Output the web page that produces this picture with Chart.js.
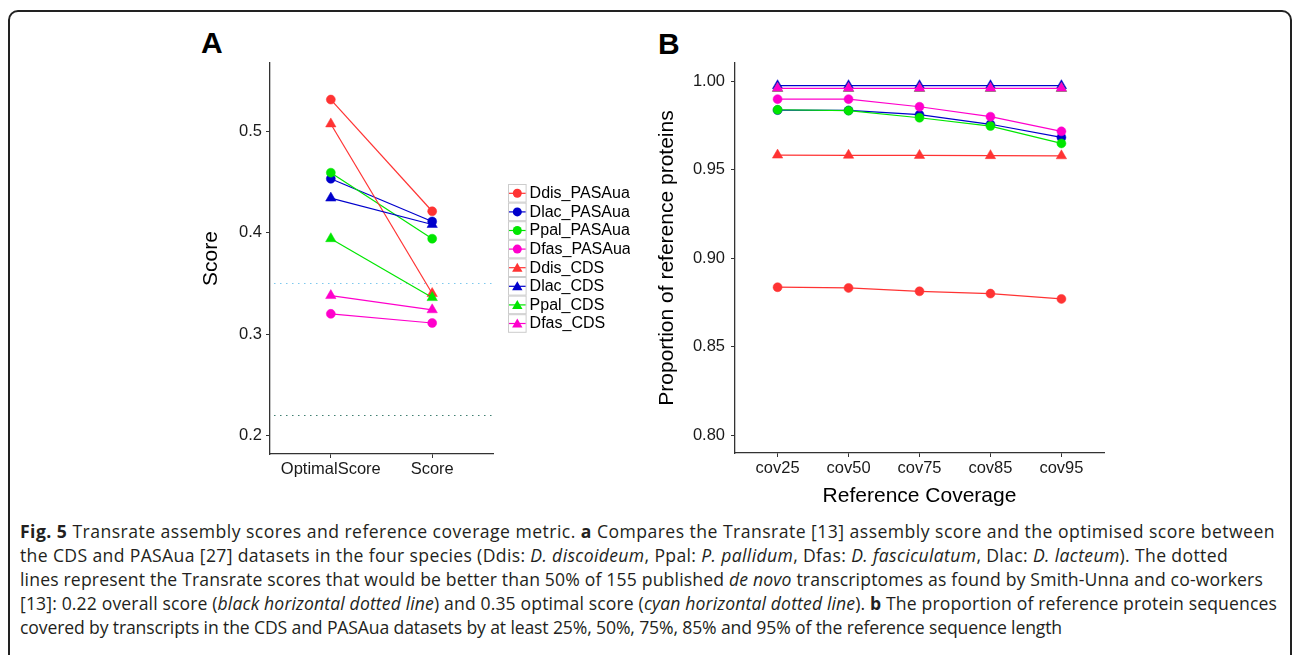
<!DOCTYPE html>
<html>
<head>
<meta charset="utf-8">
<script src="https://cdn.jsdelivr.net/npm/chart.js"></script>
<style>
  body { margin: 0; background: #fff; width: 1293px; height: 655px; overflow: hidden; position: relative; font-family: "Liberation Sans", Arial, sans-serif; }
  #frame { position: absolute; left: 8px; top: 10px; width: 1284px; height: 700px; border: 2px solid #222; border-radius: 10px; box-sizing: border-box; }
  canvas { position: absolute; }
  #scoreChart { left: 190px; top: 41px; }
  #covChart { left: 640px; top: 40px; }
  .panel { position: absolute; font-weight: bold; font-size: 30px; line-height: 30px; color: #000; }
  #caption { position: absolute; left: 20px; top: 519px; font-family: "Open Sans", sans-serif; font-size: 17.6px; line-height: 24px; color: #231f20; white-space: nowrap; }
  #caption div { display: inline-block; clear: both; float: left; }
</style>
</head>
<body>
<div id="frame"></div>
<div class="panel" style="left:201px; top:28px;">A</div>
<div class="panel" style="left:658px; top:29px;">B</div>
<canvas id="scoreChart" width="440" height="460"></canvas>
<canvas id="covChart" width="480" height="475"></canvas>
<div id="caption">
  <div data-end="1275"><b>Fig. 5</b> Transrate assembly scores and reference coverage metric. <b>a</b> Compares the Transrate [13] assembly score and the optimised score between</div>
  <div data-end="1228">the CDS and PASAua [27] datasets in the four species (Ddis: <i>D. discoideum</i>, Ppal: <i>P. pallidum</i>, Dfas: <i>D. fasciculatum</i>, Dlac: <i>D. lacteum</i>). The dotted</div>
  <div data-end="1263">lines represent the Transrate scores that would be better than 50% of 155 published <i>de novo</i> transcriptomes as found by Smith-Unna and co-workers</div>
  <div data-end="1277">[13]: 0.22 overall score (<i>black horizontal dotted line</i>) and 0.35 optimal score (<i>cyan horizontal dotted line</i>). <b>b</b> The proportion of reference protein sequences</div>
  <div data-end="1062">covered by transcripts in the CDS and PASAua datasets by at least 25%, 50%, 75%, 85% and 95% of the reference sequence length</div>
</div>
<script>
// categories and labels
const scoreCats = ['OptimalScore', 'Score'];
const covCats = ['cov25', 'cov50', 'cov75', 'cov85', 'cov95'];
const seriesNames = ['Ddis_PASAua', 'Dlac_PASAua', 'Ppal_PASAua', 'Dfas_PASAua',
                     'Ddis_CDS', 'Dlac_CDS', 'Ppal_CDS', 'Dfas_CDS'];

// panel A: transrate scores
const ddisPasaScore = [0.531, 0.421];
const dlacPasaScore = [0.453, 0.411];
const ppalPasaScore = [0.459, 0.394];
const dfasPasaScore = [0.320, 0.311];
const ddisCdsScore  = [0.507, 0.340];
const dlacCdsScore  = [0.434, 0.408];
const ppalCdsScore  = [0.394, 0.336];
const dfasCdsScore  = [0.338, 0.324];
const refScores = [0.35, 0.22];   // optimal / overall thresholds
const scoreTicks = [0.2, 0.3, 0.4, 0.5];

// panel B: proportion of reference proteins
const ddisPasaCov = [0.8836, 0.8832, 0.8813, 0.8800, 0.8770];
const dlacPasaCov = [0.9836, 0.9834, 0.9810, 0.9756, 0.9682];
const ppalPasaCov = [0.9838, 0.9833, 0.9793, 0.9746, 0.9648];
const dfasPasaCov = [0.9898, 0.9898, 0.9855, 0.9799, 0.9716];
const ddisCdsCov  = [0.9582, 0.9581, 0.9580, 0.9579, 0.9578];
const dlacCdsCov  = [0.9974, 0.9974, 0.9974, 0.9974, 0.9974];
const ppalCdsCov  = [0.9958, 0.9958, 0.9958, 0.9958, 0.9958];
const dfasCdsCov  = [0.9959, 0.9959, 0.9959, 0.9959, 0.9959];
const covTicks = [0.80, 0.85, 0.90, 0.95, 1.00];

// styles
const lineColors = ['#ff3333', '#0000cc', '#00e600', '#ff00cc', '#ff3333', '#0000cc', '#00e600', '#ff00cc'];
const pointShapes = ['circle', 'circle', 'circle', 'circle', 'triangle', 'triangle', 'triangle', 'triangle'];
const refColors = ['#7cc8ee', '#3f7f70'];
const axisFont = { family: '"Liberation Sans", Arial, sans-serif', size: 16.5 };
const titleFont = { family: '"Liberation Sans", Arial, sans-serif', size: 21 };

// stretch each caption line to the width it has in the figure
document.querySelectorAll('#caption div').forEach(line => {
    const target = +line.dataset.end - 20;
    const chars = line.textContent.length;
    const w = line.getBoundingClientRect().width;
    line.style.letterSpacing = ((target - w) / chars).toFixed(3) + 'px';
});

function buildDatasets(seriesValues) {
    const n = seriesValues.length;
    return seriesValues.map((vals, i) => ({
        label: seriesNames[i],
        data: vals.map((v, j) => ({ x: j + 1, y: v })),
        borderColor: lineColors[i],
        backgroundColor: lineColors[i],
        borderWidth: 1.2,
        pointStyle: pointShapes[i],
        pointRadius: pointShapes[i] === 'circle' ? 4.5 : 6,
        pointBorderWidth: 0.5,
        order: n - i,
        tension: 0
    }));
}

function drawShape(ctx, shape, x, y, r) {
    ctx.beginPath();
    if (shape === 'circle') {
        ctx.arc(x, y, r, 0, Math.PI * 2);
    } else {
        ctx.moveTo(x, y - r);
        ctx.lineTo(x + r * Math.sin(Math.PI * 2 / 3), y - r * Math.cos(Math.PI * 2 / 3));
        ctx.lineTo(x + r * Math.sin(Math.PI * 4 / 3), y - r * Math.cos(Math.PI * 4 / 3));
        ctx.closePath();
    }
    ctx.fill();
}

const refLinePlugin = {
    id: 'refLines',
    beforeDatasetsDraw(chart, args, opts) {
        if (!opts.values) return;
        const { ctx, chartArea } = chart;
        const yScale = chart.scales.y;
        ctx.save();
        ctx.lineWidth = 1.2;
        ctx.setLineDash([1.5, 4.5]);
        opts.values.forEach((v, i) => {
            const y = Math.round(yScale.getPixelForValue(v)) + 0.5;
            ctx.strokeStyle = opts.colors[i];
            ctx.beginPath();
            ctx.moveTo(chartArea.left + 4, y);
            ctx.lineTo(chartArea.right, y);
            ctx.stroke();
        });
        ctx.restore();
    }
};

const keyLegendPlugin = {
    id: 'keyLegend',
    afterDraw(chart, args, opts) {
        if (!opts.display) return;
        const ctx = chart.ctx;
        const size = 18.6;
        ctx.save();
        chart.data.datasets.forEach((ds, i) => {
            const top = opts.top + i * size;
            const cy = top + size / 2;
            ctx.strokeStyle = '#cccccc';
            ctx.lineWidth = 1;
            ctx.strokeRect(opts.left + 0.5, top + 0.5, size - 1, size - 1);
            ctx.strokeStyle = ds.borderColor;
            ctx.lineWidth = 1.2;
            ctx.beginPath();
            ctx.moveTo(opts.left + 1, cy);
            ctx.lineTo(opts.left + size - 1, cy);
            ctx.stroke();
            ctx.fillStyle = ds.borderColor;
            drawShape(ctx, ds.pointStyle, opts.left + size / 2, cy + (ds.pointStyle === 'circle' ? 0 : 1), ds.pointStyle === 'circle' ? 4.5 : 6);
            ctx.fillStyle = '#000';
            ctx.font = '16px "Liberation Sans", Arial, sans-serif';
            ctx.textBaseline = 'middle';
            ctx.fillText(ds.label, opts.left + size + 3, cy + 0.5);
        });
        ctx.restore();
    }
};

function makeChart(id, cats, seriesValues, cfg) {
    const canvas = document.getElementById(id);
    return new Chart(canvas.getContext('2d'), {
        type: 'line',
        data: { datasets: buildDatasets(seriesValues) },
        options: {
            responsive: false,
            animation: false,
            devicePixelRatio: 1,
            layout: { autoPadding: false, padding: cfg.padding },
            plugins: {
                legend: { display: false },
                tooltip: { enabled: false },
                refLines: { values: cfg.refValues, colors: refColors },
                keyLegend: cfg.legend
            },
            scales: {
                x: {
                    type: 'linear',
                    min: 0.4,
                    max: cats.length + 0.6,
                    afterBuildTicks: s => { s.ticks = cats.map((c, i) => ({ value: i + 1 })); },
                    afterFit: s => { s.height = cfg.xHeight; },
                    ticks: {
                        callback: v => cats[v - 1],
                        color: '#1a1a1a',
                        font: axisFont,
                        padding: 2,
                        maxRotation: 0,
                        autoSkip: false
                    },
                    grid: { drawOnChartArea: false, drawTicks: true, tickLength: 4, color: '#333', lineWidth: 1 },
                    border: { display: true, color: '#333', width: 1.3 },
                    title: { display: !!cfg.xTitle, text: cfg.xTitle, color: '#000', font: titleFont, padding: { top: 0, bottom: cfg.xTitlePad } }
                },
                y: {
                    min: cfg.yMin,
                    max: cfg.yMax,
                    afterBuildTicks: s => { s.ticks = cfg.yTicks.map(v => ({ value: v })); },
                    afterFit: s => { s.width = cfg.yWidth; },
                    ticks: {
                        callback: v => v.toFixed(cfg.decimals),
                        color: '#1a1a1a',
                        font: axisFont,
                        padding: cfg.yTickPad
                    },
                    grid: { drawOnChartArea: false, drawTicks: true, tickLength: 4, color: '#333', lineWidth: 1 },
                    border: { display: true, color: '#333', width: 1.3 },
                    title: { display: true, text: cfg.yTitle, color: '#000', font: titleFont, padding: { top: cfg.yTitlePad, bottom: 0 } }
                }
            }
        },
        plugins: [refLinePlugin, keyLegendPlugin]
    });
}

makeChart('scoreChart', scoreCats,
    [ddisPasaScore, dlacPasaScore, ppalPasaScore, dfasPasaScore, ddisCdsScore, dlacCdsScore, ppalCdsScore, dfasCdsScore],
    {
        padding: { left: 0, top: 22, right: 137, bottom: 0 },
        yMin: 0.182, yMax: 0.567, yTicks: scoreTicks, decimals: 1,
        yWidth: 80, xHeight: 47, yTickPad: 4, yTitlePad: 9,
        yTitle: 'Score', xTitle: '', xTitlePad: 0,
        refValues: refScores,
        legend: { display: true, left: 318, top: 143 }
    });

makeChart('covChart', covCats,
    [ddisPasaCov, dlacPasaCov, ppalPasaCov, dfasPasaCov, ddisCdsCov, dlacCdsCov, ppalCdsCov, dfasCdsCov],
    {
        padding: { left: 0, top: 23, right: 16, bottom: 0 },
        yMin: 0.790, yMax: 1.0102, yTicks: covTicks, decimals: 2,
        yWidth: 95, xHeight: 62, yTickPad: 6, yTitlePad: 15,
        yTitle: 'Proportion of reference proteins', xTitle: 'Reference Coverage', xTitlePad: 6,
        refValues: null,
        legend: { display: false }
    });
</script>
</body>
</html>
